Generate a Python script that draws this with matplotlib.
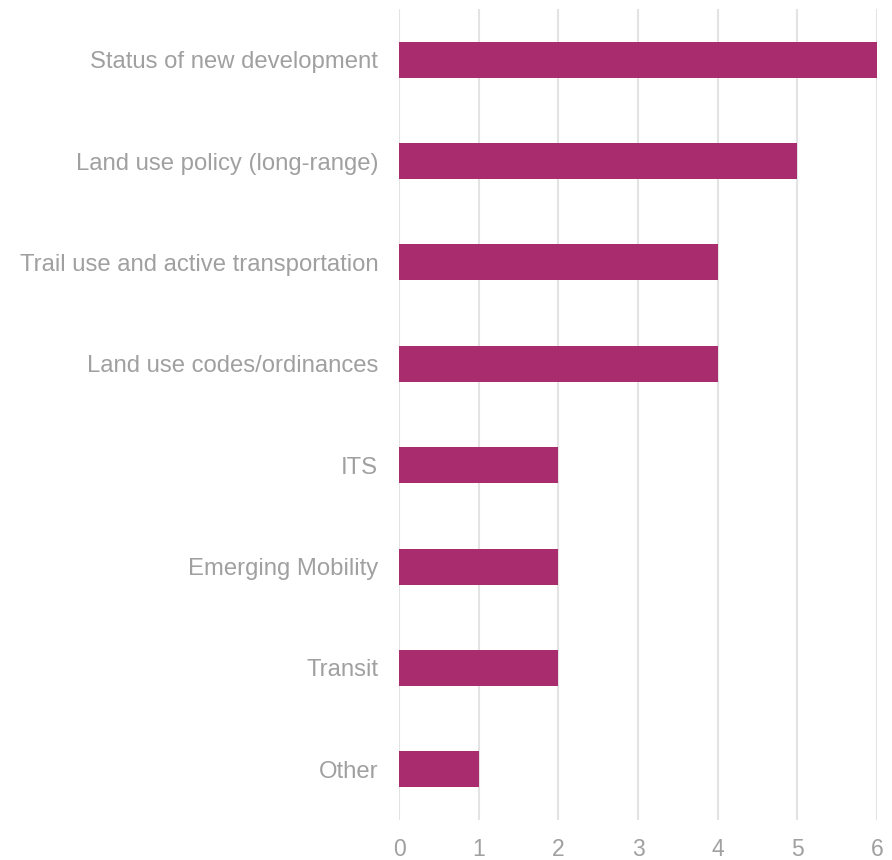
import matplotlib
matplotlib.use("Agg")
import matplotlib.pyplot as plt

categories = ["Status of new development", "Land use policy (long-range)",
              "Trail use and active transportation", "Land use codes/ordinances",
              "ITS", "Emerging Mobility", "Transit", "Other"]
values = [6, 5, 4, 4, 2, 2, 2, 1]
xticks = [0, 1, 2, 3, 4, 5, 6]

plt.rcParams['font.family'] = ['Liberation Sans', 'DejaVu Sans']

fig = plt.figure(figsize=(8.92, 8.6), dpi=100)
ax = fig.add_axes([399/892, 1 - 820/860, (877-399)/892, (820-9)/860])

ypos = list(range(len(categories)))
ax.barh(ypos, values, height=0.355, color="#A82C6E", zorder=3)
ax.set_ylim(len(categories) - 0.5, -0.5)
ax.set_xlim(0, 6)
ax.set_xticks(xticks)
ax.set_xticklabels([str(t) for t in xticks])
ax.set_yticks(ypos)
ax.set_yticklabels(categories)
ax.grid(axis='x', color="#e3e3e3", linewidth=1.5, zorder=0)
for s in ax.spines.values():
    s.set_visible(False)
ax.tick_params(axis='both', length=0, colors="#a0a0a0")
ax.tick_params(axis='y', pad=15, labelsize=17.2)
ax.tick_params(axis='x', pad=13, labelsize=16.5)

fig.savefig("out.png", dpi=100)
